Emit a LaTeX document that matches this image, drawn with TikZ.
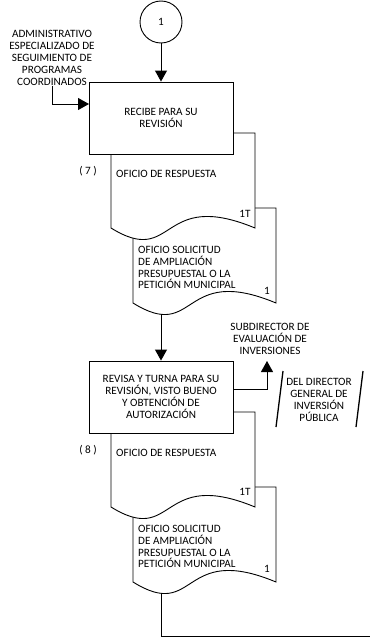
\documentclass[tikz,border=0pt]{standalone}
\usepackage{fontspec}
\setmainfont{Carlito}
\usetikzlibrary{arrows.meta}
\pgfdeclarelayer{conn}
\pgfdeclarelayer{docs}
\pgfsetlayers{conn,docs,main}
% document shape: x0, x1, ytop, ybottom (y grows downward)
\newcommand\mydoc[4]{%
  \draw[docline] (#1,#3) -- (#2,#3) -- (#2,#4)
    .. controls ({#1+0.33*(#2-#1)},{#4-40}) and ({#1+0.45*(#2-#1)},{#4+40}) .. (#1,#4) -- cycle;}
\begin{document}
\begin{tikzpicture}[x=1pt,y=-1pt,
  font=\fontsize{11.2}{11.9}\selectfont,
  box/.style={draw, fill=white, line width=0.9pt, minimum width=144pt, minimum height=72pt, align=center, inner sep=0pt},
  arr/.style={line width=0.9pt, -{Triangle[length=11pt,width=12pt]}},
  ln/.style={line width=0.9pt},
  docline/.style={draw, fill=white, line width=0.9pt},
  lbl/.style={inner sep=0pt, align=center},
  ltxt/.style={inner sep=0pt, align=left, anchor=west},
  slash/.style={line width=1.3pt}]
\useasboundingbox (0,0) rectangle (370,637);

% main nodes
\node[draw, circle, line width=0.9pt, minimum size=42pt, inner sep=0pt, fill=white] (c1) at (161,22) {1};
\node[box] (b1) at (161,118) {RECIBE PARA SU\\REVISIÓN};
\node[box] (b2) at (161,397) {REVISA Y TURNA PARA SU\\REVISIÓN, VISTO BUENO\\Y OBTENCIÓN DE\\AUTORIZACIÓN};

% labels
\node[lbl] (adm) at (52,58) {ADMINISTRATIVO\\ESPECIALIZADO DE\\SEGUIMIENTO DE\\PROGRAMAS\\COORDINADOS};
\node[lbl] (sub) at (270,339) {SUBDIRECTOR DE\\EVALUACIÓN DE\\INVERSIONES};
\node[lbl] (dg) at (319,400) {DEL DIRECTOR\\GENERAL DE\\INVERSIÓN\\PÚBLICA};
\draw[slash] (276,427) -- (283,371);
\draw[slash] (356,427) -- (363,371);

% document texts
\node[lbl] (n7) at (88,171) {(\hspace{2.5pt}7\hspace{2.5pt})};
\node[ltxt] (r1) at (116,174) {OFICIO DE RESPUESTA};
\node[lbl] (t1) at (245,214) {1T};
\node[ltxt] (s1) at (138,267.5) {OFICIO SOLICITUD\\DE AMPLIACIÓN\\PRESUPUESTAL O LA\\PETICIÓN MUNICIPAL};
\node[lbl] (o1) at (267,291) {1};

\node[lbl] (n8) at (88,450) {(\hspace{2.5pt}8\hspace{2.5pt})};
\node[ltxt] (r2) at (116,453) {OFICIO DE RESPUESTA};
\node[lbl] (t2) at (245,492) {1T};
\node[ltxt] (s2) at (138,546.5) {OFICIO SOLICITUD\\DE AMPLIACIÓN\\PRESUPUESTAL O LA\\PETICIÓN MUNICIPAL};
\node[lbl] (o2) at (267,569) {1};

% documents
\begin{pgfonlayer}{docs}
\mydoc{133}{276}{208}{303}
\mydoc{111}{255}{133}{228}
\mydoc{133}{276}{487}{582}
\mydoc{111}{255}{412}{507}
\end{pgfonlayer}

% connectors
\coordinate (b1in) at (89,104);
\coordinate (d2b) at (161,290);
\coordinate (b2e) at (233,389);
\coordinate (subtip) at (267,361);
\coordinate (d4b) at (161,570);
\coordinate (endc) at (370,636);
\begin{pgfonlayer}{conn}
\draw[arr] (c1) -- (b1);
\draw[arr] (adm.south) |- (b1in);
\draw[arr] (d2b) -- (b2);
\draw[arr] (b2e) -| (subtip);
\draw[ln] (d4b) |- (endc);
\end{pgfonlayer}
\end{tikzpicture}
\end{document}
